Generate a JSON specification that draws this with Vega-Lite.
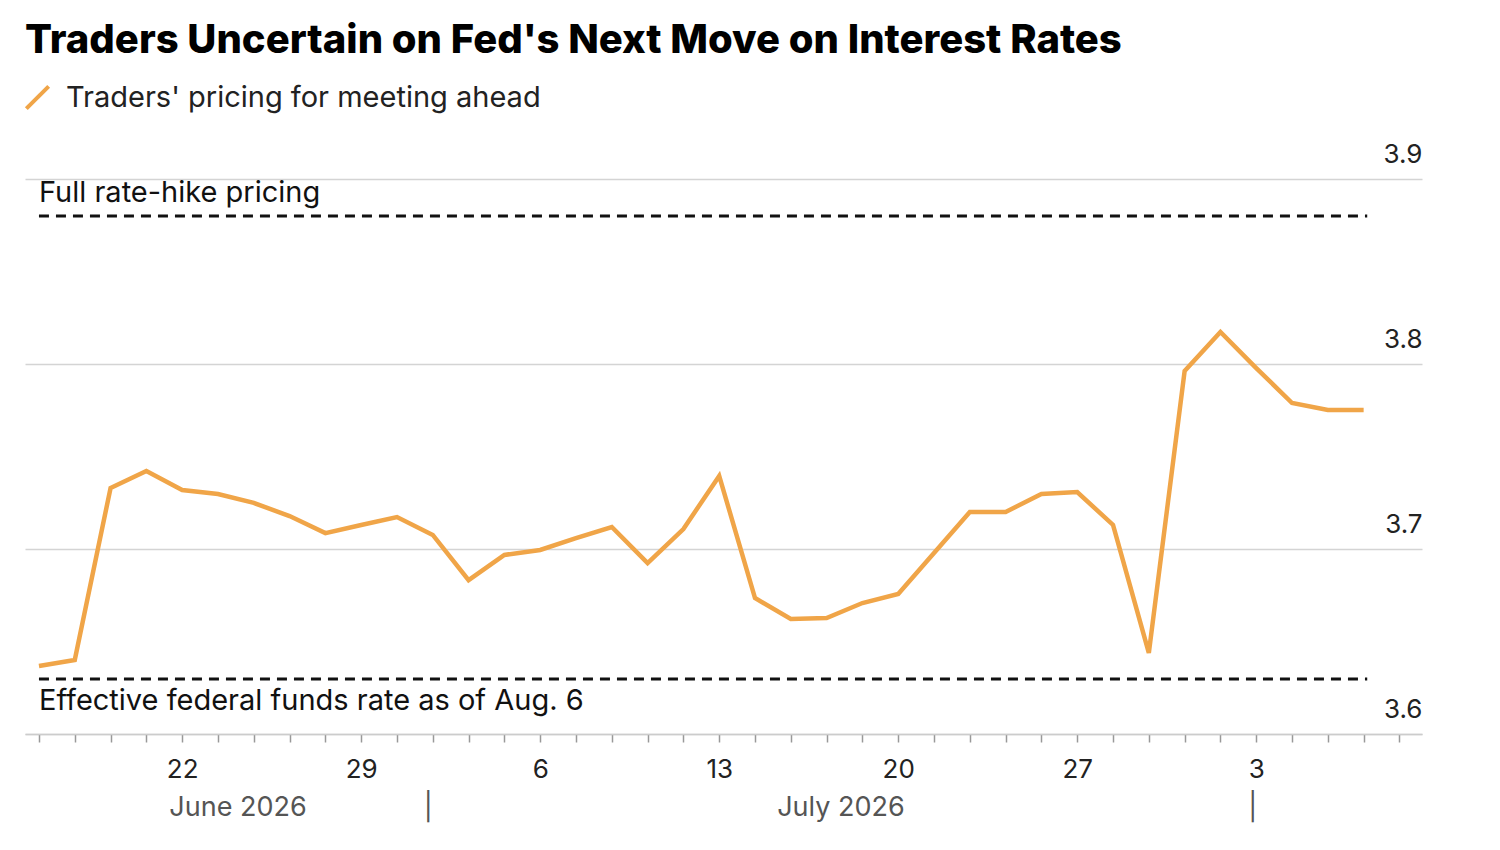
{
"$schema":"https://vega.github.io/schema/vega-lite/v6.json",
"width":1397,"height":555,
"autosize":{"type":"none"},
"padding":{"left":25,"top":179,"right":78,"bottom":116},
"background":"white",
"title":{"text":"Traders Uncertain on Fed's Next Move on Interest Rates","anchor":"start","frame":"group","offset":22,"fontSize":40,"font":"Inter","fontWeight":800,"color":"#000"},
"config":{"view":{"stroke":null},"font":"Inter"},
"datasets":{
"series":[
{"i":0,"v":3.6368},{"i":1,"v":3.64},{"i":2,"v":3.733},{"i":3,"v":3.7422},{"i":4,"v":3.7319},{"i":5,"v":3.7297},{"i":6,"v":3.7249},{"i":7,"v":3.7178},{"i":8,"v":3.7086},{"i":9,"v":3.713},{"i":10,"v":3.7173},{"i":11,"v":3.7076},{"i":12,"v":3.6832},{"i":13,"v":3.6968},{"i":14,"v":3.6995},{"i":15,"v":3.7059},{"i":16,"v":3.7119},{"i":17,"v":3.6924},{"i":18,"v":3.7108},{"i":19,"v":3.7395},{"i":20,"v":3.6735},{"i":21,"v":3.6622},{"i":22,"v":3.6627},{"i":23,"v":3.6708},{"i":24,"v":3.6757},{"i":25,"v":3.6978},{"i":26,"v":3.72},{"i":27,"v":3.72},{"i":28,"v":3.7297},{"i":29,"v":3.7308},{"i":30,"v":3.713},{"i":31,"v":3.6438},{"i":32,"v":3.7962},{"i":33,"v":3.8173},{"i":34,"v":3.7978},{"i":35,"v":3.7789},{"i":36,"v":3.7751},{"i":37,"v":3.7751}],
"refs":[{"x":0,"x2":37.1,"y":3.88,"label":"Full rate-hike pricing"},{"x":0,"x2":37.1,"y":3.6297,"label":"Effective federal funds rate as of Aug. 6"}],
"months":[{"i":5.56,"t":"June 2026"},{"i":22.4,"t":"July 2026"},{"i":10.87,"t":"|"},{"i":33.9,"t":"|"}]
},
"layer":[
{"data":{"name":"series"},"mark":{"type":"line","color":"#f0a548","strokeWidth":4.5,"strokeJoin":"miter"},
"encoding":{
"x":{"field":"i","type":"quantitative","scale":{"domain":[-0.39,38.63],"nice":false,"zero":false},
"axis":{"tickCount":39,"tickMinStep":1,"labelExpr":"datum.value==4?'22':datum.value==9?'29':datum.value==14?'6':datum.value==19?'13':datum.value==24?'20':datum.value==29?'27':datum.value==34?'3':''","labelOverlap":false,"labelBound":false,"title":null,"grid":false,"domainColor":"#ccc","domainWidth":1.5,"tickColor":"#999","tickSize":8,"tickWidth":1.5,"labelFontSize":26,"labelColor":"#222","labelPadding":14,"labelFont":"Inter"}},
"y":{"field":"v","type":"quantitative","scale":{"domain":[3.6,3.9],"nice":false,"zero":false},
"axis":{"orient":"right","values":[3.6,3.7,3.8,3.9],"format":".1f","title":null,"grid":true,"gridColor":"#d4d4d4","gridWidth":1.5,"domain":false,"ticks":false,"labelAlign":"right","labelBaseline":"bottom","labelPadding":0,"labelOffset":-12,"labelFontSize":26,"labelColor":"#222","labelFont":"Inter"}},
"color":{"datum":"Traders' pricing for meeting ahead","type":"nominal","scale":{"range":["#f0a548"]},
"legend":{"title":null,"orient":"none","legendX":-2,"legendY":-96,"symbolType":"M-1,1L1,-1","symbolStrokeWidth":4,"symbolSize":500,"labelFontSize":29,"labelColor":"#222","labelFont":"Inter","labelOffset":14,"labelLimit":0}}}},
{"data":{"name":"refs"},"mark":{"type":"rule","strokeDash":[10,7],"strokeWidth":3,"color":"#111"},
"encoding":{"x":{"field":"x","type":"quantitative"},"x2":{"field":"x2"},"y":{"field":"y","type":"quantitative"}}},
{"data":{"name":"refs"},"transform":[{"filter":"datum.y>3.7"}],"mark":{"type":"text","align":"left","baseline":"bottom","dy":-8,"fontSize":29,"color":"#111","font":"Inter"},
"encoding":{"x":{"field":"x","type":"quantitative"},"y":{"field":"y","type":"quantitative"},"text":{"field":"label"}}},
{"data":{"name":"refs"},"transform":[{"filter":"datum.y<3.7"}],"mark":{"type":"text","align":"left","baseline":"top","dy":8,"fontSize":29,"color":"#111","font":"Inter"},
"encoding":{"x":{"field":"x","type":"quantitative"},"y":{"field":"y","type":"quantitative"},"text":{"field":"label"}}},
{"data":{"name":"months"},"mark":{"type":"text","fontSize":27,"color":"#555","baseline":"middle","dy":74,"font":"Inter","letterSpacing":1},
"encoding":{"x":{"field":"i","type":"quantitative"},"y":{"datum":3.6,"type":"quantitative"},"text":{"field":"t"}}}
]
}
